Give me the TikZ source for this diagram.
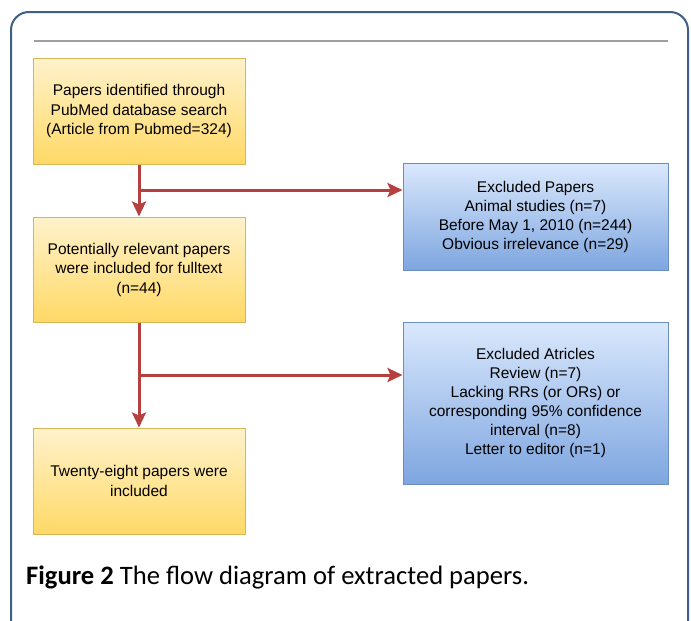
\documentclass[tikz,border=0pt]{standalone}
\usepackage{fontspec}
\setmainfont{Liberation Sans}
\newfontfamily\capfont{Carlito}
\usetikzlibrary{arrows.meta}
\definecolor{frameblue}{HTML}{3F5F85}
\definecolor{arrowred}{HTML}{B5403F}
\definecolor{ytop}{HTML}{FFF2CC}
\definecolor{ybot}{HTML}{FFD966}
\definecolor{yborder}{HTML}{D6B656}
\definecolor{btop}{HTML}{DAE8FC}
\definecolor{bbot}{HTML}{7EA6E0}
\definecolor{bborder}{HTML}{6C8EBF}
\tikzset{
  ybox/.style={draw=yborder, line width=1pt, top color=ytop, bottom color=ybot,
    minimum width=212pt, inner sep=0pt, align=center,
    font=\fontsize{15.5}{19.5}\selectfont},
  bbox/.style={draw=bborder, line width=1pt, top color=btop, bottom color=bbot,
    minimum width=265pt, inner sep=0pt, align=center,
    font=\fontsize{15.5}{19}\selectfont},
  flow/.style={draw=arrowred, line width=3pt,
    -{Stealth[length=15pt, width=14pt, inset=3pt]}}
}
\begin{document}
\begin{tikzpicture}[x=1pt, y=-1pt]
\useasboundingbox (0,0) rectangle (691,621);
\clip (0,0) rectangle (691,621);
\draw[frameblue, line width=2pt, rounded corners=18pt] (11,12) rectangle (688,640);
\draw[gray!75, line width=2pt] (34,41) -- (668,41);

\node[ybox, minimum height=106pt] (b1) at (139,111) {Papers identified through\\PubMed database search\\(Article from Pubmed=324)};
\node[ybox, minimum height=105pt] (b2) at (139,269.5) {Potentially relevant papers\\were included for fulltext\\(n=44)};
\node[ybox, minimum height=106pt] (b3) at (139,481) {Twenty-eight papers were\\included};
\node[bbox, minimum height=107pt] (e1) at (535.5,216.5) {Excluded Papers\\Animal studies (n=7)\\Before May 1, 2010 (n=244)\\Obvious irrelevance (n=29)};
\node[bbox, minimum height=162pt] (e2) at (535.5,403) {Excluded Atricles\\Review (n=7)\\Lacking RRs (or ORs) or\\corresponding 95\% confidence\\interval (n=8)\\Letter to editor (n=1)};

\coordinate (j1) at (139,190);
\coordinate (j2) at (139,375);
\draw[flow] (b1) -- (b2);
\draw[flow] (j1) -- (j1 -| e1.west);
\draw[flow] (b2) -- (b3);
\draw[flow] (j2) -- (j2 -| e2.west);

\node[anchor=base west, inner sep=0pt, font=\capfont\fontsize{26.6}{31}\selectfont] (cap) at (26,584) {\textbf{Figure 2} The flow diagram of extracted papers.};
\end{tikzpicture}
\end{document}
